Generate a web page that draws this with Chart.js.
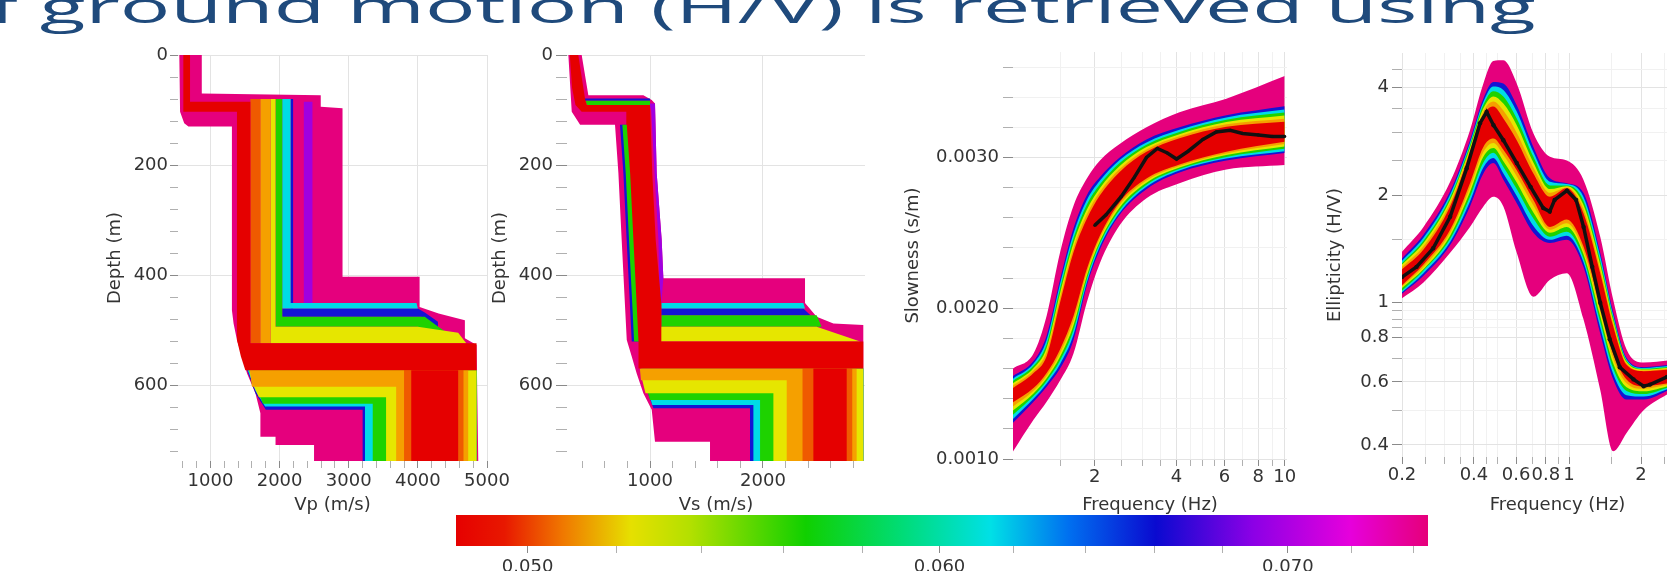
<!DOCTYPE html>
<html>
<head>
<meta charset="utf-8">
<title>Inversion ensemble</title>
<script src="https://cdn.jsdelivr.net/npm/chart.js@4.4.1/dist/chart.umd.min.js"></script>
<style>
  html, body { margin: 0; padding: 0; background: #fff; }
  body { position: relative; width: 1667px; height: 571px; overflow: hidden; }
  canvas { position: absolute; }
  #title { position: absolute; top: 0; left: 0; white-space: nowrap; font-family: 'Open Sans'; font-size: 50px;
           line-height: 1; color: #1f4a7c; transform-origin: 0 0; z-index: 5; }
  #tBase { display: inline-block; width: 0; height: 0; vertical-align: baseline; }
</style>
</head>
<body>
<canvas id="vp" width="421" height="477" style="left:100px;top:39px"></canvas>
<canvas id="vs" width="414" height="477" style="left:485px;top:39px"></canvas>
<canvas id="disp" width="419" height="480" style="left:898px;top:36px"></canvas>
<canvas id="ell" width="413" height="479" style="left:1320px;top:37px"></canvas>
<canvas id="cbar" width="1060" height="100" style="left:420px;top:499px"></canvas>
<div id="title"><span id="tPre">of </span><span id="tMain">ground motion (H/V) is retrieved using</span><span id="tBase"></span></div>
<script>
// ---------- data ----------
// Vp profiles, one polygon per colour patch: [velocity m/s, depth m]
const vpPink = [[549,0],[874,0],[874,70],[2595,73],[2595,94],[2910,97],[2910,403],[4025,403],[4025,458],[4300,470],[4680,482],[4680,515],[4849,527],[4874,740],[2498,740],[2498,709],[1941,709],[1941,694],[1722,694],[1722,651],[1650,615],[1529,579],[1456,548],[1383,518],[1334,488],[1310,464],[1310,130],[680,130],[620,124],[560,103]];
const vpPurple = [[2350,85],[2475,85],[2475,451],[2350,451]];
const vpBlue = [[2159,80],[2195,80],[2195,461],[4000,461],[4100,468],[4290,485],[4290,500],[4150,495],[4050,476],[2038,476],[2038,461],[2159,461]];
const vpBlueLow = [[1529,573],[4849,573],[4849,740],[3201,740],[3201,645],[1800,645],[1650,615]];
const vpCyan = [[2038,80],[2159,80],[2159,451],[3980,451],[4000,461],[2038,461]];
const vpCyanLow = [[1540,573],[4849,573],[4849,740],[3235,740],[3235,639],[1790,639],[1650,610]];
const vpGreen = [[1941,80],[2038,80],[2038,476],[4100,476],[4250,490],[4420,505],[4420,515],[4250,505],[4000,494],[1941,494]];
const vpGreenLow = [[1550,573],[4849,573],[4849,740],[3347,740],[3347,634],[1760,634],[1640,600]];
const vpYellow = [[1868,80],[1941,80],[1941,494],[4000,494],[4583,505],[4700,524],[1868,524]];
const vpYellowLow = [[1560,573],[4849,573],[4849,740],[3540,740],[3540,622],[1700,622],[1600,595]];
const vpOrange = [[1720,80],[1868,80],[1868,524],[1720,524]];
const vpOrangeLow = [[1570,573],[4728,573],[4728,740],[3686,740],[3686,603],[1600,603]];
const vpRedOrange = [[1577,80],[1720,80],[1720,524],[1577,524]];
const vpRedOrangeLow = [[3800,573],[4660,573],[4660,740],[3800,740]];
const vpRed = [[607,0],[704,0],[704,85],[1577,85],[1577,524],[4849,524],[4849,573],[1504,573],[1440,548],[1383,518],[1383,103],[607,103]];
const vpRedLow = [[3904,573],[4583,573],[4583,740],[3904,740]];

// Vs profiles
const vsPink = [[277,0],[395,0],[454,73],[941,73],[1015,82],[1044,88],[1059,215],[1103,336],[1118,406],[2372,406],[2372,451],[2475,476],[2623,488],[2888,491],[2888,740],[1531,740],[1531,703],[1044,703],[1015,645],[941,615],[882,579],[838,548],[794,518],[779,458],[749,336],[720,215],[690,127],[381,127],[307,103]];
const vsPurple = [[990,88],[1044,88],[1059,215],[1103,336],[1118,406],[1100,451],[1085,451],[1074,336],[1040,215],[1010,100]];
const vsBlue = [[1100,461],[2357,461],[2420,473],[1100,473]];
const vsBlueEdge = [[734,127],[830,127],[860,215],[890,336],[920,458],[935,521],[838,521],[823,458],[793,336],[764,215]];
const vsBlueTop = [[420,79],[1000,79],[1000,83],[425,83]];
const vsBlueLow = [[920,570],[2888,570],[2888,740],[1885,740],[1885,642],[1030,642],[990,620]];
const vsCyan = [[1100,451],[2357,451],[2372,461],[1100,461]];
const vsCyanLow = [[925,570],[2888,570],[2888,740],[1915,740],[1915,636],[1020,636],[985,612]];
const vsGreen = [[1100,473],[2475,473],[2520,494],[1100,494]];
const vsGreenEdge = [[755,127],[830,127],[860,215],[890,336],[920,458],[935,521],[859,521],[844,458],[814,336],[785,215]];
const vsGreenTop = [[430,83],[1000,83],[1000,91],[440,91]];
const vsGreenLow = [[930,570],[2888,570],[2888,740],[1974,740],[1974,627],[1000,627],[960,600]];
const vsYellow = [[1088,494],[2475,494],[2860,521],[1088,521]];
const vsYellowLow = [[920,570],[2888,570],[2888,740],[2092,740],[2092,615],[960,615],[930,590]];
const vsOrangeLow = [[910,570],[2829,570],[2829,740],[2210,740],[2210,591],[920,591]];
const vsRedOrangeLow = [[2350,570],[2790,570],[2790,740],[2350,740]];
const vsRed = [[290,0],[365,0],[425,80],[440,91],[1000,91],[1020,215],[1050,336],[1080,406],[1100,451],[1100,521],[2888,521],[2888,570],[897,570],[898,521],[883,458],[853,336],[824,215],[794,127],[790,103],[395,103],[340,91],[310,60]];
const vsRedLow = [[2446,570],[2741,570],[2741,740],[2446,740]];

// dispersion curves: slowness (s/m) band edges per misfit colour
const dispFreq = [1.0, 1.19, 1.33, 1.49, 1.67, 1.87, 2.09, 2.47, 3.1, 4.1, 6.1, 10];
const dispPinkHi = [0.00160, 0.00170, 0.00195, 0.00237, 0.00268, 0.00286, 0.00298, 0.00309, 0.00320, 0.00330, 0.00339, 0.00354];
const dispBlueHi = [0.00155, 0.00165, 0.00182, 0.00219, 0.00253, 0.00275, 0.00287, 0.00300, 0.00312, 0.00320, 0.00328, 0.00334];
const dispCyanHi = [0.001533, 0.001633, 0.001789, 0.002162, 0.002496, 0.002718, 0.002847, 0.002984, 0.003100, 0.003184, 0.003266, 0.003318];
const dispGreenHi = [0.001518, 0.001618, 0.001762, 0.002131, 0.002465, 0.002687, 0.002822, 0.002964, 0.003085, 0.003170, 0.003251, 0.003298];
const dispYellowHi = [0.001502, 0.001602, 0.001736, 0.002100, 0.002433, 0.002655, 0.002798, 0.002944, 0.003069, 0.003155, 0.003235, 0.003278];
const dispOrangeHi = [0.001487, 0.001587, 0.001709, 0.002069, 0.002402, 0.002624, 0.002773, 0.002924, 0.003054, 0.003141, 0.003220, 0.003258];
const dispRedHi = [0.001471, 0.001571, 0.001682, 0.002038, 0.002371, 0.002593, 0.002749, 0.002904, 0.003038, 0.003127, 0.003204, 0.003238];
const dispRedLo = [0.001376, 0.001471, 0.001571, 0.001727, 0.001949, 0.002260, 0.002482, 0.002704, 0.002860, 0.002953, 0.003038, 0.003104];
const dispOrangeLo = [0.001348, 0.001453, 0.001553, 0.001702, 0.001918, 0.002238, 0.002464, 0.002686, 0.002847, 0.002943, 0.003027, 0.003089];
const dispYellowLo = [0.001321, 0.001435, 0.001535, 0.001678, 0.001887, 0.002216, 0.002446, 0.002669, 0.002833, 0.002933, 0.003016, 0.003073];
const dispGreenLo = [0.001293, 0.001418, 0.001518, 0.001653, 0.001855, 0.002193, 0.002429, 0.002651, 0.002820, 0.002924, 0.003004, 0.003058];
const dispCyanLo = [0.001266, 0.001400, 0.001500, 0.001629, 0.001824, 0.002171, 0.002411, 0.002634, 0.002806, 0.002914, 0.002993, 0.003042];
const dispBlueLo = [0.00124, 0.00138, 0.00148, 0.00160, 0.00179, 0.00215, 0.00239, 0.00262, 0.00279, 0.00290, 0.00298, 0.00303];
const dispPinkLo = [0.00105, 0.00126, 0.00138, 0.00152, 0.00170, 0.00204, 0.00230, 0.00255, 0.00273, 0.00283, 0.00292, 0.00295];
// measured dispersion curve
const dispObsFreq = [2, 2.2, 2.5, 2.8, 3.1, 3.4, 3.7, 4.0, 4.4, 5, 5.6, 6.3, 7, 8, 9, 10];
const dispObs = [0.00255, 0.00262, 0.00274, 0.00287, 0.00300, 0.00306, 0.00303, 0.00299, 0.00304, 0.00312, 0.00317, 0.00318, 0.00316, 0.00315, 0.00314, 0.00314];

// ellipticity curves: H/V band edges per misfit colour
const ellFreq = [0.2, 0.246, 0.318, 0.385, 0.438, 0.482, 0.531, 0.604, 0.709, 0.832, 0.978, 1.148, 1.35, 1.53, 1.74, 2.05, 2.64];
const ellPinkHi = [1.39, 1.63, 2.18, 3.04, 4.11, 4.75, 4.77, 4.11, 2.98, 2.56, 2.50, 2.21, 1.53, 1.02, 0.74, 0.68, 0.69];
const ellBlueHi = [1.33, 1.55, 2.05, 2.85, 3.73, 4.15, 4.11, 3.57, 2.73, 2.23, 2.16, 2.03, 1.38, 0.94, 0.70, 0.66, 0.67];
const ellCyanHi = [1.31, 1.52, 2.01, 2.80, 3.65, 4.03, 3.94, 3.43, 2.64, 2.18, 2.15, 1.98, 1.35, 0.924, 0.694, 0.657, 0.666];
const ellGreenHi = [1.29, 1.49, 1.97, 2.76, 3.58, 3.91, 3.78, 3.28, 2.56, 2.13, 2.13, 1.93, 1.31, 0.908, 0.688, 0.653, 0.662];
const ellYellowHi = [1.28, 1.47, 1.94, 2.71, 3.50, 3.78, 3.61, 3.14, 2.47, 2.08, 2.12, 1.88, 1.28, 0.892, 0.682, 0.65, 0.658];
const ellOrangeHi = [1.26, 1.44, 1.90, 2.67, 3.43, 3.66, 3.45, 2.99, 2.39, 2.03, 2.10, 1.83, 1.24, 0.876, 0.676, 0.646, 0.654];
const ellRedHi = [1.24, 1.41, 1.86, 2.62, 3.35, 3.54, 3.28, 2.85, 2.30, 1.98, 2.09, 1.78, 1.21, 0.86, 0.67, 0.643, 0.65];
const ellRedLo = [1.12, 1.28, 1.60, 2.16, 2.73, 2.88, 2.68, 2.35, 1.94, 1.63, 1.71, 1.44, 0.98, 0.72, 0.61, 0.584, 0.596];
const ellOrangeLo = [1.11, 1.26, 1.57, 2.10, 2.64, 2.80, 2.59, 2.26, 1.87, 1.60, 1.67, 1.40, 0.948, 0.698, 0.595, 0.574, 0.591];
const ellYellowLo = [1.10, 1.24, 1.54, 2.04, 2.56, 2.71, 2.49, 2.17, 1.79, 1.57, 1.63, 1.37, 0.916, 0.676, 0.580, 0.565, 0.586];
const ellGreenLo = [1.08, 1.23, 1.51, 1.98, 2.47, 2.63, 2.40, 2.08, 1.72, 1.53, 1.58, 1.33, 0.884, 0.654, 0.566, 0.555, 0.581];
const ellCyanLo = [1.07, 1.21, 1.48, 1.92, 2.39, 2.54, 2.30, 1.99, 1.64, 1.50, 1.54, 1.30, 0.852, 0.632, 0.551, 0.546, 0.576];
const ellBlueLo = [1.06, 1.19, 1.45, 1.86, 2.30, 2.46, 2.21, 1.90, 1.57, 1.47, 1.50, 1.26, 0.82, 0.61, 0.536, 0.536, 0.571];
const ellPinkLo = [1.03, 1.14, 1.38, 1.63, 1.86, 1.98, 1.86, 1.38, 1.04, 1.16, 1.21, 0.90, 0.57, 0.384, 0.432, 0.50, 0.56];
// measured ellipticity curve
const ellObsFreq = [0.2, 0.23, 0.27, 0.318, 0.373, 0.424, 0.452, 0.483, 0.531, 0.604, 0.69, 0.78, 0.83, 0.87, 0.98, 1.07, 1.15, 1.25, 1.35, 1.48, 1.63, 1.86, 2.05, 2.18, 2.57];
const ellObs = [1.18, 1.26, 1.42, 1.74, 2.38, 3.18, 3.42, 3.14, 2.85, 2.46, 2.11, 1.84, 1.80, 1.94, 2.06, 1.94, 1.63, 1.26, 1.0, 0.79, 0.66, 0.61, 0.584, 0.59, 0.62];

// misfit colour scale
const misfitRange = [0.04844, 0.07448];

// tick labels
const depthMajor = [0, 200, 400, 600];
const vpMajor = [1000, 2000, 3000, 4000, 5000];
const vsMajor = [1000, 2000];
const slowMajor = [0.001, 0.002, 0.003];
const dispFreqMajor = [2, 4, 6, 8, 10];
const dispFreqTicks = [1.5, 2, 2.5, 3, 3.5, 4, 4.5, 5, 5.5, 6, 7, 8, 9, 10];
const ellFreqMajor = [0.2, 0.4, 0.6, 0.8, 1, 2];
const ellFreqTicks = [0.2, 0.25, 0.3, 0.35, 0.4, 0.45, 0.5, 0.6, 0.7, 0.8, 0.9, 1, 1.5, 2, 2.5, 3, 3.5, 4];
const ellMajor = [0.4, 0.6, 0.8, 1, 2, 4];
const ellTicks = [0.4, 0.5, 0.6, 0.7, 0.8, 0.85, 0.9, 0.95, 1, 1.5, 2, 2.5, 3, 3.5, 4, 4.5];
const misfitMajor = [0.05, 0.06, 0.07];

// ---------- style ----------
const FONT = 'DejaVu Sans';
const TXT = '#333';
const C = {
  pink: '#e5007d', purple: '#a000e0', blue: '#1414d4', cyan: '#00dce6', green: '#1ed200',
  yellow: '#e6e600', orange: '#f5a000', redorange: '#ef5a00', red: '#e50000', black: '#111'
};
// slide title placement (baseline y, x-height, left edge and width of "ground ... using")
const TITLE_BASELINE = 23, TITLE_XHEIGHT = 24, TITLE_LEFT = 40, TITLE_WIDTH = 1496;
Chart.defaults.font.family = FONT;

function range(a, b, step) {
  const r = [];
  for (let v = a; v <= b + step * 1e-6; v += step) r.push(+v.toFixed(6));
  return r;
}
function isMajor(v, majors) {
  return majors.some(m => Math.abs(v - m) <= Math.abs(m) * 1e-6 + 1e-12);
}

function axis(o) {
  return {
    type: o.type || 'linear', position: o.position, min: o.min, max: o.max, reverse: !!o.reverse,
    border: {display: false},
    grid: {
      drawOnChartArea: o.grid !== false,
      color: c => isMajor(c.tick.value, o.majors) ? '#e3e3e3' : (o.minorGrid ? '#f1f1f1' : 'rgba(0,0,0,0)'),
      tickColor: c => isMajor(c.tick.value, o.majors) ? '#8a8a8a' : '#b0b0b0',
      tickLength: o.tickLength || 7
    },
    ticks: {
      autoSkip: false, maxRotation: 0, minRotation: 0, padding: o.padding ?? 3, color: TXT,
      font: {family: FONT, size: 18},
      callback: v => isMajor(v, o.majors) ? o.fmt(v) : ''
    },
    afterBuildTicks: s => { s.ticks = o.values.map(v => ({value: v})); },
    afterFit: s => { if (s.isHorizontal()) s.height = o.size; else s.width = o.size; },
    title: {display: !!o.title, text: o.title, color: TXT, font: {family: FONT, size: 18},
            padding: {top: 4.2, bottom: 0}}
  };
}

// polygons listed bottom to top; higher order paints first
function polygons(levels) {
  const sets = [];
  let ord = 1000;
  levels.forEach(([color, polys]) => polys.forEach(p => sets.push({
    data: p.map(([x, y]) => ({x, y})), fill: 'shape', backgroundColor: color,
    borderColor: 'rgba(0,0,0,0)', borderWidth: 0, pointRadius: 0, order: ord--
  })));
  return sets;
}

// filled bands between upper and lower edge, listed outermost first
function bands(xs, levels) {
  const sets = [];
  let ord = 100;
  levels.forEach(([color, hi, lo]) => {
    const base = {borderColor: 'rgba(0,0,0,0)', borderWidth: 0, pointRadius: 0, cubicInterpolationMode: 'monotone', order: ord--};
    sets.push({...base, data: xs.map((x, i) => ({x, y: hi[i]})), fill: false});
    sets.push({...base, data: xs.map((x, i) => ({x, y: lo[i]})), fill: '-1', backgroundColor: color});
  });
  return sets;
}

function observed(xs, ys, r) {
  return {data: xs.map((x, i) => ({x, y: ys[i]})), borderColor: C.black, borderWidth: 3.5, pointRadius: r,
          pointBackgroundColor: C.black, pointBorderWidth: 0, fill: false, order: 0};
}

function makeChart(id, datasets, x, y, padding) {
  return new Chart(document.getElementById(id), {
    type: 'line',
    data: {datasets},
    options: {
      responsive: false, animation: false, devicePixelRatio: 1, events: [],
      layout: {padding},
      scales: {x, y},
      plugins: {legend: {display: false}, tooltip: {enabled: false}}
    }
  });
}

const depthAxis = (size, tickLength, padding) => axis({
  position: 'left', min: 0, max: 738, reverse: true, values: range(0, 720, 40), majors: depthMajor,
  fmt: v => String(v), title: 'Depth (m)', size, tickLength, padding
});

// ---------- Vp ----------
makeChart('vp', polygons([
  [C.pink, [vpPink]], [C.purple, [vpPurple]], [C.blue, [vpBlue, vpBlueLow]], [C.cyan, [vpCyan, vpCyanLow]],
  [C.green, [vpGreen, vpGreenLow]], [C.yellow, [vpYellow, vpYellowLow]], [C.orange, [vpOrange, vpOrangeLow]],
  [C.redorange, [vpRedOrange, vpRedOrangeLow]], [C.red, [vpRed, vpRedLow]]
]),
  axis({position: 'bottom', min: 530, max: 5000, values: range(600, 5000, 200), majors: vpMajor,
        fmt: v => String(v), title: 'Vp (m/s)', size: 55}),
  depthAxis(78, 8, 2),
  {top: 16, right: 34, left: 0, bottom: 0});

// ---------- Vs ----------
makeChart('vs', polygons([
  [C.pink, [vsPink]], [C.purple, [vsPurple]], [C.blue, [vsBlue, vsBlueEdge, vsBlueTop, vsBlueLow]],
  [C.cyan, [vsCyan, vsCyanLow]], [C.green, [vsGreen, vsGreenEdge, vsGreenTop, vsGreenLow]],
  [C.yellow, [vsYellow, vsYellowLow]], [C.orange, [vsOrangeLow]], [C.redorange, [vsRedOrangeLow]],
  [C.red, [vsRed, vsRedLow]]
]),
  axis({position: 'bottom', min: 265, max: 2903, values: range(400, 2800, 200), majors: vsMajor,
        fmt: v => String(v), title: 'Vs (m/s)', size: 55}),
  depthAxis(82, 11, 3),
  {top: 16, right: 34, left: 0, bottom: 0});

// ---------- dispersion ----------
makeChart('disp', [observed(dispObsFreq, dispObs, 1.6), ...bands(dispFreq, [
  [C.pink, dispPinkHi, dispPinkLo], [C.blue, dispBlueHi, dispBlueLo], [C.cyan, dispCyanHi, dispCyanLo],
  [C.green, dispGreenHi, dispGreenLo], [C.yellow, dispYellowHi, dispYellowLo],
  [C.orange, dispOrangeHi, dispOrangeLo], [C.red, dispRedHi, dispRedLo]
])],
  axis({type: 'logarithmic', position: 'bottom', min: 1, max: 10.2, values: dispFreqTicks, majors: dispFreqMajor,
        fmt: v => String(v), title: 'Frequency (Hz)', size: 57, minorGrid: true, padding: 1}),
  axis({position: 'left', min: 0.001, max: 0.0037, values: range(0.001, 0.0036, 0.0002), majors: slowMajor,
        fmt: v => v.toFixed(4), title: 'Slowness (s/m)', size: 115, tickLength: 10, padding: 4, minorGrid: true}),
  {top: 16, right: 30, left: 0, bottom: 0});

// ---------- ellipticity ----------
makeChart('ell', [observed(ellObsFreq, ellObs, 2.2), ...bands(ellFreq, [
  [C.pink, ellPinkHi, ellPinkLo], [C.blue, ellBlueHi, ellBlueLo], [C.cyan, ellCyanHi, ellCyanLo],
  [C.green, ellGreenHi, ellGreenLo], [C.yellow, ellYellowHi, ellYellowLo],
  [C.orange, ellOrangeHi, ellOrangeLo], [C.red, ellRedHi, ellRedLo]
])],
  axis({type: 'logarithmic', position: 'bottom', min: 0.2, max: 4, values: ellFreqTicks, majors: ellFreqMajor,
        fmt: v => String(v), title: 'Frequency (Hz)', size: 59, minorGrid: true, padding: 1}),
  axis({type: 'logarithmic', position: 'left', min: 0.37, max: 5, values: ellTicks, majors: ellMajor,
        fmt: v => String(v), title: 'Ellipticity (H/V)', size: 82, tickLength: 10, padding: 3, minorGrid: true}),
  {top: 16, right: 20, left: 0, bottom: 0});

// ---------- colour bar ----------
const cbStops = [[0, '#e60000'], [0.05, '#e81800'], [0.11, '#f07800'], [0.18, '#e6e000'], [0.24, '#b4e000'],
  [0.36, '#10d000'], [0.46, '#00dc78'], [0.55, '#00e0e6'], [0.63, '#0070f0'], [0.72, '#0a0ad0'],
  [0.82, '#8c00e6'], [0.92, '#e600dc'], [1, '#e6007a']];
new Chart(document.getElementById('cbar'), {
  type: 'bar',
  data: {labels: ['misfit'], datasets: [{
    data: [misfitRange], barPercentage: 1, categoryPercentage: 1, borderWidth: 0,
    backgroundColor: c => {
      const a = c.chart.chartArea;
      if (!a) return C.red;
      const g = c.chart.ctx.createLinearGradient(a.left, 0, a.right, 0);
      cbStops.forEach(([p, col]) => g.addColorStop(p, col));
      return g;
    }
  }]},
  options: {
    indexAxis: 'y', responsive: false, animation: false, devicePixelRatio: 1, events: [],
    layout: {padding: {top: 16, left: 36, right: 52, bottom: 0}},
    scales: {
      x: axis({type: 'logarithmic', position: 'bottom', min: misfitRange[0], max: misfitRange[1],
               values: range(0.05, 0.074, 0.002), majors: misfitMajor, fmt: v => v.toFixed(3),
               size: 53, grid: false, tickLength: 7, padding: 4}),
      y: {display: false}
    },
    plugins: {legend: {display: false}, tooltip: {enabled: false}}
  }
});

// ---------- slide title: size by x-height, sit on the baseline, squeeze to the slide width ----------
function fitTitle() {
  const t = document.getElementById('title');
  const m = document.createElement('canvas').getContext('2d');
  m.font = "100px 'Open Sans'";
  const xRatio = (m.measureText('x').actualBoundingBoxAscent || 53.5) / 100;
  const fs = TITLE_XHEIGHT / xRatio;
  t.style.fontSize = fs + 'px';
  t.style.transform = 'none';
  t.style.top = '0px';
  t.style.left = '0px';
  const base = document.getElementById('tBase').getBoundingClientRect().bottom - t.getBoundingClientRect().top;
  const w = document.getElementById('tMain').getBoundingClientRect().width;
  const p = document.getElementById('tPre').getBoundingClientRect().width;
  const s = TITLE_WIDTH / w;
  t.style.top = (TITLE_BASELINE - base) + 'px';
  t.style.left = (TITLE_LEFT - p * s) + 'px';
  t.style.transform = 'scaleX(' + s + ')';
}
fitTitle();
if (document.fonts) document.fonts.ready.then(fitTitle);
</script>
</body>
</html>
